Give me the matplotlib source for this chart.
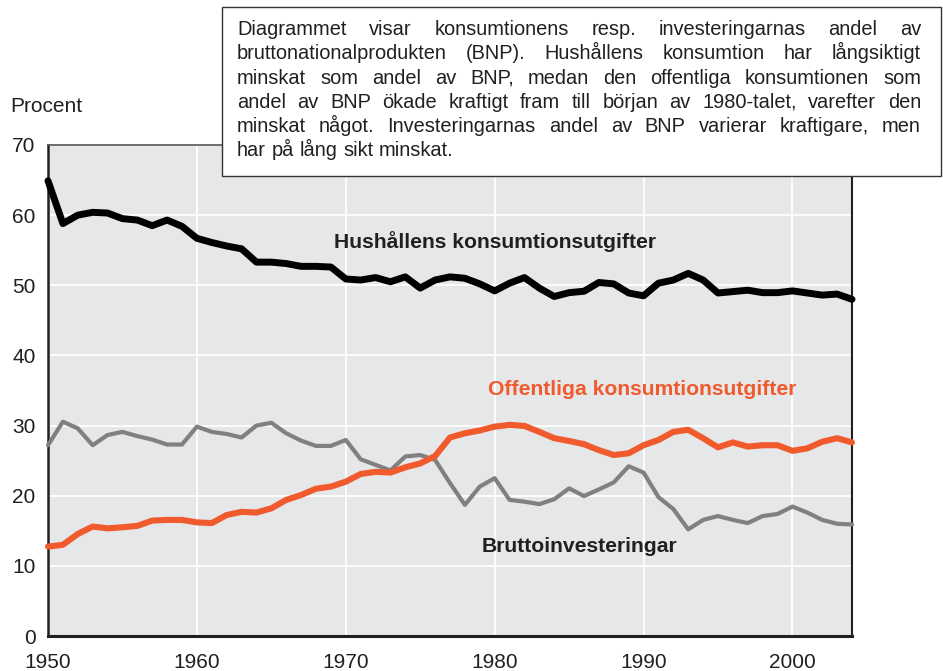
import matplotlib
matplotlib.use("Agg")
import matplotlib.pyplot as plt
from matplotlib.patches import Rectangle

plt.rcParams['font.family'] = ['Liberation Sans', 'DejaVu Sans']

years = list(range(1950, 2005))

hushall = [64.9, 58.8, 60.0, 60.4, 60.3, 59.5, 59.3, 58.5, 59.3, 58.4,
           56.7, 56.1, 55.6, 55.2, 53.3, 53.3, 53.1, 52.7, 52.7, 52.6,
           50.9, 50.75, 51.1, 50.5, 51.2, 49.6, 50.75, 51.2, 51.0, 50.2,
           49.2, 50.3, 51.1, 49.6, 48.4, 48.95, 49.15, 50.4, 50.2, 48.9,
           48.5, 50.3, 50.75, 51.7, 50.75, 48.9, 49.1, 49.3, 48.95, 48.95,
           49.2, 48.9, 48.6, 48.75, 48.0]

offentlig = [12.75, 13.0, 14.55, 15.6, 15.35, 15.5, 15.7, 16.45, 16.55, 16.55,
             16.2, 16.1, 17.25, 17.7, 17.6, 18.2, 19.4, 20.1, 21.0, 21.3,
             22.0, 23.1, 23.4, 23.3, 24.05, 24.6, 25.65, 28.3, 28.9, 29.3,
             29.85, 30.1, 29.95, 29.1, 28.2, 27.8, 27.35, 26.5, 25.8, 26.05,
             27.2, 27.95, 29.1, 29.4, 28.2, 26.9, 27.6, 27.0, 27.2, 27.2,
             26.4, 26.75, 27.7, 28.2, 27.6]

brutto = [27.2, 30.55, 29.6, 27.2, 28.65, 29.1, 28.5, 28.0, 27.3, 27.3,
          29.85, 29.1, 28.8, 28.3, 30.0, 30.4, 28.9, 27.85, 27.1, 27.1,
          27.95, 25.2, 24.4, 23.6, 25.6, 25.8, 25.1, 21.8, 18.7, 21.3,
          22.5, 19.4, 19.15, 18.8, 19.5, 21.05, 19.95, 20.9, 21.9, 24.2,
          23.3, 19.8, 18.1, 15.2, 16.55, 17.1, 16.55, 16.1, 17.1, 17.4,
          18.45, 17.6, 16.55, 16.0, 15.9]

label_hushall = "Hushållens konsumtionsutgifter"
label_offentlig = "Offentliga konsumtionsutgifter"
label_brutto = "Bruttoinvesteringar"

info_lines = [
    "Diagrammet visar konsumtionens resp. investeringarnas andel av",
    "bruttonationalprodukten (BNP). Hushållens konsumtion har långsiktigt",
    "minskat som andel av BNP, medan den offentliga konsumtionen som",
    "andel av BNP ökade kraftigt fram till början av 1980-talet, varefter den",
    "minskat något. Investeringarnas andel av BNP varierar kraftigare, men",
    "har på lång sikt minskat.",
]

W, H = 943, 671
dark = '#231f20'
orange = '#f15a2c'
grey = '#808080'

fig = plt.figure(figsize=(W / 100, H / 100), dpi=100)
ax = fig.add_axes([48 / W, 1 - 636 / H, (852 - 48) / W, (636 - 145) / H])
ax.set_facecolor('#e6e7e8')

ax.plot(years, brutto, color=grey, lw=3, solid_joinstyle='round',
        solid_capstyle='round', clip_on=False, zorder=3)
ax.plot(years, offentlig, color=orange, lw=4.4, solid_joinstyle='round',
        solid_capstyle='round', clip_on=False, zorder=4)
ax.plot(years, hushall, color='black', lw=5, solid_joinstyle='round',
        solid_capstyle='round', clip_on=False, zorder=5)

ax.set_xlim(1950, 2004)
ax.set_ylim(0, 70)
ax.set_xticks(range(1950, 2001, 10))
ax.set_yticks(range(0, 71, 10))
ax.grid(True, color='white', lw=1.3, zorder=1)
ax.set_axisbelow(True)
ax.tick_params(length=0, labelsize=15, labelcolor=dark)
ax.tick_params(axis='y', pad=9)
ax.tick_params(axis='x', pad=12)

for side, lw, col in [('left', 1.8, dark), ('bottom', 2.2, dark),
                      ('right', 1.5, dark), ('top', 1.2, '#555555')]:
    ax.spines[side].set_linewidth(lw)
    ax.spines[side].set_color(col)

ax.text(1980.05, 56.2, label_hushall, ha='center', va='center',
        fontsize=15.2, fontweight='bold', color=dark, zorder=6)
ax.text(1989.9, 35.1, label_offentlig, ha='center', va='center',
        fontsize=15.2, fontweight='bold', color=orange, zorder=6)
ax.text(1985.7, 12.7, label_brutto, ha='center', va='center',
        fontsize=15.2, fontweight='bold', color=dark, zorder=6)

fig.text(10 / W, 1 - 107 / H, "Procent", ha='left', va='center',
         fontsize=15, color=dark)

# info box top right, justified text
box = Rectangle((222 / W, 1 - 176 / H), (941 - 222) / W, (176 - 7) / H,
                transform=fig.transFigure, facecolor='white',
                edgecolor='#333333', lw=1, zorder=10)
fig.add_artist(box)

renderer = fig.canvas.get_renderer()
x0, x1 = 237, 921
for i, line in enumerate(info_lines):
    yb = 1 - (35 + i * 24.3) / H
    words = line.split()
    texts = [fig.text(0, yb, w, fontsize=14.4, color=dark,
                      va='baseline', ha='left', zorder=11) for w in words]
    widths = [t.get_window_extent(renderer).width for t in texts]
    if i < len(info_lines) - 1:
        gap = max((x1 - x0 - sum(widths)) / (len(words) - 1), 3)
    else:
        gap = 5.6
    x = x0
    for t, w in zip(texts, widths):
        t.set_x(x / W)
        x += w + gap

fig.savefig('out.png', dpi=100)
